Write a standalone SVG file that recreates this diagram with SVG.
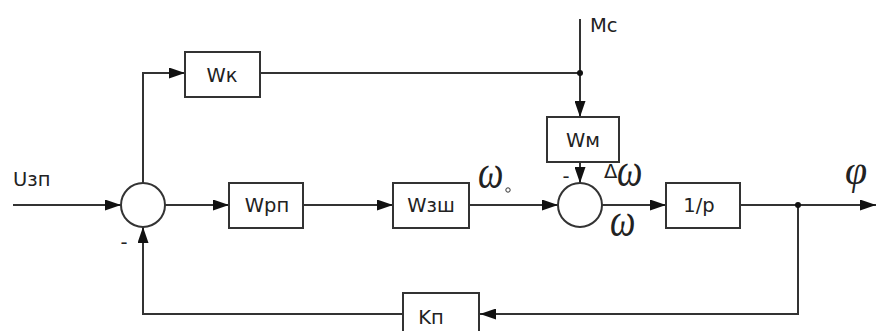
<svg xmlns="http://www.w3.org/2000/svg" width="877" height="331" viewBox="0 0 877 331">
  <style>
    .blk { fill: #fff; stroke: #333; stroke-width: 2; }
    .sum { fill: #fff; stroke: #333; stroke-width: 2; }
    .wire { fill: none; stroke: #333; stroke-width: 2; }
    .lbl { font-family: "DejaVu Sans", "Liberation Sans", sans-serif; font-size: 19.5px; fill: #222; }
    .sig { font-family: "Liberation Serif", "DejaVu Serif", serif; font-style: italic; fill: #222; }
    .dot { fill: #111; }
  </style>
  <defs>
    <marker id="arr" markerUnits="userSpaceOnUse" markerWidth="17" markerHeight="11" refX="16" refY="5.5" orient="auto">
      <path d="M0,0 L16,5.5 L0,11 z" fill="#111"/>
    </marker>
  </defs>

  <!-- signal lines -->
  <g id="connectors">
    <path class="wire" d="M13,205 H121" marker-end="url(#arr)"/>
    <path class="wire" d="M143,183 V73 H185" marker-end="url(#arr)"/>
    <path class="wire" d="M260,73 H580"/>
    <path class="wire" d="M580,19 V117" marker-end="url(#arr)"/>
    <path class="wire" d="M580,162 V183" marker-end="url(#arr)"/>
    <path class="wire" d="M165,205 H229" marker-end="url(#arr)"/>
    <path class="wire" d="M303,205 H393" marker-end="url(#arr)"/>
    <path class="wire" d="M469,205 H558" marker-end="url(#arr)"/>
    <path class="wire" d="M602,205 H666" marker-end="url(#arr)"/>
    <path class="wire" d="M740,205 H876" marker-end="url(#arr)"/>
    <path class="wire" d="M798,205 V314 H480" marker-end="url(#arr)"/>
    <path class="wire" d="M403,314 H143 V227" marker-end="url(#arr)"/>
    <circle class="dot" cx="580" cy="73" r="3"/>
    <circle class="dot" cx="798" cy="205" r="3"/>
  </g>

  <!-- summing junctions -->
  <g id="sum1">
    <circle class="sum" cx="143" cy="205" r="22"/>
    <text class="lbl" x="124" y="249" text-anchor="middle">-</text>
  </g>
  <g id="sum2">
    <circle class="sum" cx="580" cy="205" r="22"/>
    <text class="lbl" x="566" y="183" text-anchor="middle">-</text>
  </g>

  <!-- transfer blocks -->
  <g id="Wk">
    <rect class="blk" x="185" y="52" width="75" height="45"/>
    <text class="lbl" x="222" y="82" text-anchor="middle">Wк</text>
  </g>
  <g id="Wm">
    <rect class="blk" x="547" y="117" width="72" height="45"/>
    <text class="lbl" x="583" y="147" text-anchor="middle">Wм</text>
  </g>
  <g id="Wrp">
    <rect class="blk" x="229" y="183" width="74" height="45"/>
    <text class="lbl" x="267" y="212" text-anchor="middle">Wрп</text>
  </g>
  <g id="Wzsh">
    <rect class="blk" x="393" y="183" width="76" height="45"/>
    <text class="lbl" x="431" y="212" text-anchor="middle">Wзш</text>
  </g>
  <g id="integrator">
    <rect class="blk" x="666" y="183" width="74" height="45"/>
    <text class="lbl" x="699" y="212" text-anchor="middle">1/р</text>
  </g>
  <g id="Kp">
    <rect class="blk" x="403" y="293" width="76" height="45"/>
    <text class="lbl" x="431" y="324" text-anchor="middle">Kп</text>
  </g>

  <!-- signal labels -->
  <g id="labels">
    <text class="lbl" x="13" y="186">Uзп</text>
    <text class="lbl" x="590" y="32">Mс</text>
    <text class="sig" font-size="36" transform="translate(478,188) scale(1,1.3)">ω</text>
    <circle cx="508" cy="190" r="2.2" fill="none" stroke="#333" stroke-width="1"/>
    <text class="lbl" x="604" y="178" font-size="9">Δ</text>
    <text class="sig" font-size="36" transform="translate(617,186) scale(1,1.3)">ω</text>
    <text class="sig" font-size="36" transform="translate(610,236) scale(1,1.3)">ω</text>
    <text class="sig" x="845" y="184" font-size="40">φ</text>
  </g>
</svg>
